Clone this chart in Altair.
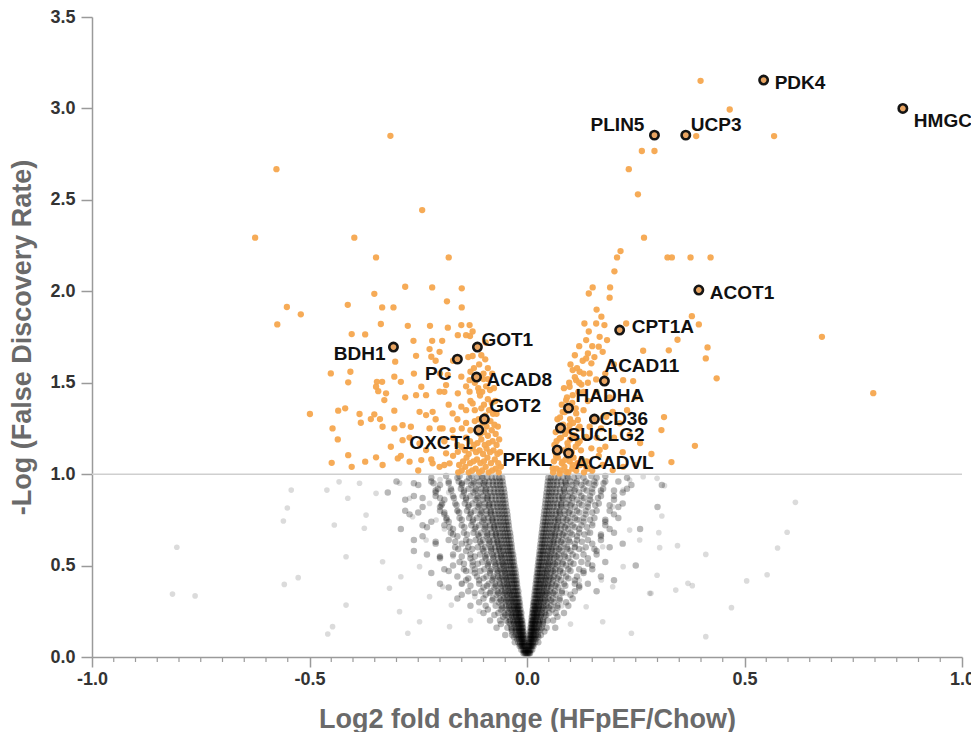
import altair as alt
import pandas as pd

# ---------------- data ----------------
gray_sparse_x = [-0.805, -0.815, -0.763, -0.542, -0.551, -0.560, -0.526, -0.558, -0.460, -0.458,
                 0.299, 0.316, 0.617, 0.310, 0.303, 0.598, 0.305, 0.346, 0.576, 0.411, 0.299, 0.552,
                 0.505, 0.370, 0.380, 0.342, 0.285, 0.470, 0.411,
                 -0.412, -0.443, -0.374, -0.416, -0.332, -0.290, -0.316, -0.416, -0.293, -0.274, -0.447,
                 -0.247, -0.232, -0.263, -0.347, -0.293, -0.224, -0.209, -0.201, -0.194, -0.174, -0.178,
                 -0.270, -0.370, -0.385, -0.432, -0.247, -0.224,
                 0.236, 0.267, 0.282, 0.159, 0.197, 0.236, 0.174, 0.221, 0.171, 0.136, 0.174, 0.240,
                 0.128, 0.197, 0.221, 0.259, 0.151, 0.128,
                 -0.15, -0.18, -0.20, -0.16, -0.19, -0.14, -0.17, -0.13, -0.15, -0.12, -0.11, -0.13,
                 0.13, 0.15, 0.17, 0.12, 0.14, 0.11, 0.10, 0.12, 0.09, 0.08, 0.10]
gray_sparse_y = [0.600, 0.344, 0.334, 0.913, 0.815, 0.744, 0.434, 0.397, 0.913, 0.126,
                 0.977, 0.937, 0.846, 0.771, 0.680, 0.682, 0.598, 0.609, 0.596, 0.561, 0.447, 0.450,
                 0.416, 0.403, 0.390, 0.366, 0.348, 0.270, 0.111,
                 0.868, 0.722, 0.704, 0.548, 0.521, 0.439, 0.376, 0.284, 0.248, 0.130, 0.166,
                 0.193, 0.640, 0.767, 0.895, 0.950, 0.840, 0.749, 0.548, 0.384, 0.284, 0.166,
                 0.868, 0.776, 0.950, 0.958, 0.494, 0.330,
                 0.968, 0.986, 0.348, 0.950, 0.822, 0.694, 0.603, 0.494, 0.421, 0.275, 0.193, 0.130,
                 0.585, 0.384, 0.913, 0.640, 0.731, 0.858,
                 0.95, 0.90, 0.97, 0.80, 0.70, 0.62, 0.55, 0.47, 0.40, 0.33, 0.25, 0.20,
                 0.95, 0.85, 0.90, 0.75, 0.68, 0.60, 0.50, 0.42, 0.35, 0.28, 0.18]

gray_rows_y = [0.02, 0.06, 0.10, 0.14, 0.18, 0.22, 0.26, 0.30, 0.34, 0.38, 0.42, 0.46, 0.50,
               0.54, 0.58, 0.62, 0.66, 0.70, 0.74, 0.78, 0.82, 0.86, 0.90, 0.94, 0.98,
               0.04, 0.08, 0.12, 0.16, 0.20, 0.24, 0.28, 0.32, 0.36, 0.40, 0.44, 0.48,
               0.52, 0.56, 0.60, 0.64, 0.68, 0.72, 0.76, 0.80, 0.84, 0.88, 0.92, 0.96,
               0.03, 0.07, 0.11, 0.15, 0.19, 0.23, 0.27, 0.31, 0.35, 0.39, 0.43, 0.47,
               0.51, 0.55, 0.59, 0.63, 0.67, 0.71, 0.75, 0.79, 0.83, 0.87, 0.91, 0.95, 0.99]
gray_rows_x = [
    [-0.001, -0.003, -0.005, -0.008, 0.001, 0.003, 0.005, 0.007],
    [-0.004, -0.006, -0.008, -0.010, -0.013, -0.017, 0.003, 0.005, 0.007, 0.009, 0.012, 0.015],
    [-0.006, -0.008, -0.010, -0.012, -0.015, -0.018, -0.023, 0.005, 0.007, 0.009, 0.011, 0.014, 0.017, 0.021],
    [-0.008, -0.010, -0.012, -0.015, -0.018, -0.021, -0.026, -0.035, 0.007, 0.009, 0.011, 0.014, 0.017, 0.020, 0.025, 0.040],
    [-0.010, -0.012, -0.015, -0.018, -0.021, -0.025, -0.030, -0.038, -0.060, 0.009, 0.011, 0.013, 0.016, 0.019, 0.023, 0.028, 0.036],
    [-0.013, -0.015, -0.018, -0.021, -0.025, -0.029, -0.034, -0.042, -0.055, 0.011, 0.013, 0.016, 0.019, 0.022, 0.026, 0.031, 0.040, 0.070],
    [-0.015, -0.018, -0.021, -0.024, -0.028, -0.033, -0.038, -0.046, -0.060, -0.090, 0.013, 0.015, 0.018, 0.021, 0.025, 0.029, 0.034, 0.043, 0.058],
    [-0.017, -0.020, -0.023, -0.027, -0.031, -0.036, -0.042, -0.050, -0.065, -0.110, 0.015, 0.017, 0.020, 0.024, 0.028, 0.032, 0.038, 0.047, 0.062, 0.090],
    [-0.020, -0.023, -0.026, -0.030, -0.035, -0.040, -0.046, -0.055, -0.070, -0.095, -0.150, 0.017, 0.020, 0.023, 0.027, 0.031, 0.036, 0.042, 0.051, 0.066, 0.100],
    [-0.022, -0.025, -0.029, -0.033, -0.038, -0.044, -0.050, -0.060, -0.075, -0.100, -0.180, 0.019, 0.022, 0.025, 0.029, 0.034, 0.039, 0.046, 0.056, 0.072, 0.120],
    [-0.024, -0.027, -0.031, -0.036, -0.041, -0.047, -0.054, -0.064, -0.080, -0.110, -0.140, 0.021, 0.024, 0.028, 0.032, 0.037, 0.043, 0.050, 0.060, 0.078, 0.110, 0.200],
    [-0.026, -0.030, -0.034, -0.039, -0.044, -0.050, -0.058, -0.068, -0.085, -0.120, -0.220, 0.023, 0.026, 0.030, 0.035, 0.040, 0.046, 0.054, 0.065, 0.083, 0.130],
    [-0.029, -0.032, -0.037, -0.042, -0.048, -0.054, -0.062, -0.073, -0.090, -0.125, -0.170, 0.025, 0.028, 0.032, 0.037, 0.043, 0.050, 0.058, 0.070, 0.090, 0.150, 0.250],
    [-0.031, -0.035, -0.040, -0.045, -0.051, -0.058, -0.066, -0.078, -0.095, -0.130, -0.200, 0.027, 0.030, 0.035, 0.040, 0.046, 0.053, 0.062, 0.075, 0.095, 0.140],
    [-0.034, -0.038, -0.043, -0.048, -0.055, -0.062, -0.071, -0.083, -0.100, -0.140, -0.260, 0.029, 0.033, 0.037, 0.043, 0.049, 0.057, 0.066, 0.080, 0.100, 0.160],
    [-0.036, -0.040, -0.046, -0.052, -0.059, -0.066, -0.075, -0.088, -0.105, -0.150, -0.210, 0.031, 0.035, 0.040, 0.046, 0.053, 0.061, 0.070, 0.085, 0.110, 0.150, 0.220],
    [-0.038, -0.043, -0.049, -0.055, -0.062, -0.070, -0.080, -0.093, -0.110, -0.160, -0.240, 0.033, 0.037, 0.043, 0.049, 0.056, 0.064, 0.074, 0.090, 0.115, 0.170],
    [-0.041, -0.046, -0.052, -0.058, -0.066, -0.074, -0.084, -0.098, -0.120, -0.170, -0.290, 0.035, 0.040, 0.045, 0.052, 0.059, 0.068, 0.078, 0.095, 0.120, 0.190, 0.260],
    [-0.043, -0.048, -0.055, -0.062, -0.070, -0.078, -0.089, -0.103, -0.125, -0.180, -0.220, 0.037, 0.042, 0.048, 0.055, 0.063, 0.072, 0.083, 0.100, 0.130, 0.180],
    [-0.045, -0.051, -0.058, -0.065, -0.073, -0.082, -0.093, -0.108, -0.130, -0.190, -0.270, 0.039, 0.044, 0.051, 0.058, 0.066, 0.076, 0.087, 0.105, 0.135, 0.200],
    [-0.048, -0.054, -0.061, -0.068, -0.077, -0.086, -0.098, -0.113, -0.135, -0.200, -0.240, 0.041, 0.047, 0.053, 0.061, 0.069, 0.079, 0.091, 0.110, 0.140, 0.210, 0.300],
    [-0.050, -0.056, -0.064, -0.072, -0.081, -0.090, -0.102, -0.118, -0.140, -0.190, -0.280, 0.043, 0.049, 0.056, 0.064, 0.073, 0.083, 0.096, 0.115, 0.145, 0.200],
    [-0.052, -0.059, -0.067, -0.075, -0.084, -0.094, -0.107, -0.123, -0.145, -0.210, -0.320, 0.045, 0.051, 0.058, 0.066, 0.076, 0.087, 0.100, 0.120, 0.150, 0.220],
    [-0.055, -0.062, -0.070, -0.078, -0.088, -0.098, -0.111, -0.128, -0.150, -0.200, -0.250, 0.047, 0.053, 0.061, 0.069, 0.079, 0.090, 0.104, 0.125, 0.155, 0.240, 0.310],
    [-0.057, -0.064, -0.072, -0.081, -0.091, -0.102, -0.115, -0.133, -0.160, -0.220, 0.049, 0.055, 0.063, 0.072, 0.082, 0.094, 0.108, 0.130, 0.160, 0.230],
    # interleaved rows
    [-0.002, -0.004, -0.006, -0.009, -0.013, 0.002, 0.004, 0.006, 0.009, 0.012],
    [-0.005, -0.007, -0.009, -0.012, -0.015, -0.020, -0.028, 0.004, 0.006, 0.008, 0.011, 0.014, 0.019, 0.026],
    [-0.007, -0.009, -0.012, -0.014, -0.017, -0.021, -0.026, -0.034, -0.050, 0.006, 0.008, 0.010, 0.013, 0.016, 0.020, 0.025, 0.032],
    [-0.009, -0.011, -0.014, -0.017, -0.020, -0.024, -0.029, -0.036, -0.045, -0.070, 0.008, 0.010, 0.012, 0.015, 0.018, 0.022, 0.027, 0.034, 0.045, 0.065],
    [-0.011, -0.013, -0.016, -0.019, -0.023, -0.027, -0.032, -0.039, -0.048, -0.062, -0.085, 0.010, 0.012, 0.014, 0.017, 0.021, 0.025, 0.030, 0.037, 0.047, 0.060],
    [-0.013, -0.016, -0.019, -0.022, -0.026, -0.031, -0.036, -0.043, -0.052, -0.066, -0.100, 0.012, 0.014, 0.017, 0.020, 0.024, 0.028, 0.034, 0.041, 0.051, 0.066, 0.085],
    [-0.016, -0.019, -0.022, -0.026, -0.030, -0.035, -0.041, -0.048, -0.058, -0.072, -0.095, -0.130, 0.014, 0.016, 0.019, 0.023, 0.027, 0.032, 0.038, 0.045, 0.055, 0.070, 0.095],
    [-0.018, -0.021, -0.025, -0.029, -0.033, -0.039, -0.045, -0.053, -0.063, -0.078, -0.100, -0.160, 0.016, 0.019, 0.022, 0.026, 0.030, 0.035, 0.041, 0.049, 0.060, 0.075, 0.105],
    [-0.020, -0.024, -0.028, -0.032, -0.037, -0.043, -0.050, -0.058, -0.068, -0.083, -0.105, -0.135, 0.018, 0.021, 0.024, 0.028, 0.033, 0.039, 0.045, 0.053, 0.064, 0.080, 0.110, 0.160],
    [-0.023, -0.026, -0.030, -0.035, -0.040, -0.046, -0.053, -0.062, -0.073, -0.088, -0.110, -0.150, -0.200, 0.020, 0.023, 0.027, 0.031, 0.036, 0.042, 0.049, 0.057, 0.068, 0.085, 0.110, 0.140],
    [-0.025, -0.029, -0.033, -0.038, -0.043, -0.050, -0.057, -0.066, -0.077, -0.093, -0.115, -0.160, 0.022, 0.025, 0.029, 0.034, 0.039, 0.045, 0.052, 0.061, 0.073, 0.090, 0.115, 0.170],
    [-0.027, -0.031, -0.036, -0.041, -0.047, -0.054, -0.061, -0.070, -0.082, -0.098, -0.120, -0.145, -0.190, 0.024, 0.027, 0.031, 0.036, 0.042, 0.048, 0.056, 0.065, 0.077, 0.095, 0.120, 0.150],
    [-0.030, -0.034, -0.039, -0.044, -0.050, -0.057, -0.065, -0.075, -0.087, -0.103, -0.125, -0.155, 0.026, 0.029, 0.034, 0.039, 0.045, 0.052, 0.060, 0.070, 0.082, 0.100, 0.125, 0.180],
    [-0.032, -0.036, -0.041, -0.047, -0.053, -0.060, -0.069, -0.079, -0.092, -0.108, -0.130, -0.170, -0.230, 0.028, 0.031, 0.036, 0.041, 0.047, 0.055, 0.063, 0.073, 0.086, 0.105, 0.130, 0.160],
    [-0.035, -0.039, -0.044, -0.050, -0.057, -0.064, -0.073, -0.083, -0.096, -0.113, -0.135, -0.165, 0.030, 0.034, 0.039, 0.044, 0.051, 0.058, 0.067, 0.078, 0.092, 0.110, 0.135, 0.190],
    [-0.037, -0.042, -0.047, -0.053, -0.060, -0.068, -0.077, -0.088, -0.101, -0.118, -0.140, -0.180, -0.260, 0.032, 0.036, 0.041, 0.047, 0.054, 0.062, 0.071, 0.082, 0.096, 0.115, 0.140, 0.170],
    [-0.039, -0.044, -0.050, -0.056, -0.063, -0.071, -0.081, -0.092, -0.106, -0.123, -0.145, -0.175, 0.034, 0.038, 0.044, 0.050, 0.057, 0.065, 0.075, 0.086, 0.100, 0.120, 0.145, 0.200],
    [-0.042, -0.047, -0.053, -0.060, -0.067, -0.075, -0.085, -0.096, -0.110, -0.128, -0.150, -0.190, -0.240, 0.036, 0.041, 0.046, 0.053, 0.060, 0.069, 0.079, 0.091, 0.105, 0.125, 0.150, 0.180],
    [-0.044, -0.050, -0.056, -0.063, -0.070, -0.079, -0.089, -0.100, -0.115, -0.133, -0.155, -0.185, 0.038, 0.043, 0.049, 0.056, 0.063, 0.072, 0.083, 0.095, 0.110, 0.130, 0.155, 0.210],
    [-0.046, -0.052, -0.059, -0.066, -0.074, -0.083, -0.093, -0.105, -0.120, -0.138, -0.160, -0.200, -0.280, 0.040, 0.045, 0.051, 0.058, 0.066, 0.075, 0.086, 0.099, 0.115, 0.135, 0.160, 0.190],
    [-0.049, -0.055, -0.062, -0.069, -0.077, -0.086, -0.097, -0.110, -0.125, -0.143, -0.165, -0.195, 0.042, 0.048, 0.054, 0.061, 0.069, 0.079, 0.090, 0.103, 0.120, 0.140, 0.165, 0.220],
    [-0.051, -0.057, -0.064, -0.072, -0.081, -0.090, -0.101, -0.114, -0.130, -0.148, -0.170, -0.210, -0.260, 0.044, 0.050, 0.056, 0.064, 0.072, 0.082, 0.094, 0.107, 0.125, 0.145, 0.170, 0.200],
    [-0.053, -0.060, -0.067, -0.075, -0.084, -0.094, -0.105, -0.118, -0.134, -0.152, -0.175, -0.205, 0.046, 0.052, 0.059, 0.066, 0.075, 0.085, 0.097, 0.111, 0.130, 0.150, 0.175, 0.230],
    [-0.056, -0.062, -0.070, -0.078, -0.087, -0.097, -0.109, -0.122, -0.138, -0.157, -0.180, -0.220, -0.300, 0.048, 0.054, 0.061, 0.069, 0.078, 0.088, 0.100, 0.115, 0.135, 0.155, 0.180, 0.210],
    # third set: outer band of the V
    [-0.003, -0.007, 0.003, 0.006],
    [-0.006, -0.011, -0.016, 0.005, 0.010, 0.014],
    [-0.009, -0.014, -0.020, -0.030, 0.008, 0.012, 0.018, 0.026],
    [-0.012, -0.018, -0.025, -0.035, 0.011, 0.016, 0.022, 0.031],
    [-0.015, -0.022, -0.030, -0.042, 0.013, 0.019, 0.027, 0.037],
    [-0.018, -0.026, -0.036, -0.050, -0.075, 0.016, 0.023, 0.032, 0.044],
    [-0.021, -0.030, -0.042, -0.057, 0.019, 0.027, 0.037, 0.050, 0.070],
    [-0.035, -0.048, -0.060, -0.080, 0.030, 0.042, 0.055, 0.075],
    [-0.040, -0.052, -0.066, -0.085, -0.120, 0.035, 0.046, 0.060, 0.080],
    [-0.044, -0.057, -0.072, -0.092, -0.130, 0.038, 0.050, 0.065, 0.088, 0.120],
    [-0.048, -0.062, -0.078, -0.100, -0.135, 0.042, 0.055, 0.070, 0.095],
    [-0.052, -0.067, -0.085, -0.107, -0.140, -0.180, 0.045, 0.060, 0.076, 0.100, 0.130],
    [-0.056, -0.072, -0.090, -0.113, -0.145, 0.049, 0.064, 0.082, 0.107, 0.140],
    [-0.060, -0.077, -0.096, -0.120, -0.150, -0.200, 0.052, 0.068, 0.087, 0.113],
    [-0.064, -0.082, -0.102, -0.126, -0.158, 0.056, 0.073, 0.093, 0.120, 0.155],
    [-0.068, -0.086, -0.108, -0.132, -0.165, -0.210, 0.060, 0.078, 0.098, 0.126],
    [-0.072, -0.091, -0.113, -0.138, -0.170, 0.063, 0.082, 0.104, 0.132, 0.170],
    [-0.076, -0.096, -0.118, -0.144, -0.178, -0.230, 0.067, 0.087, 0.110, 0.138],
    [-0.080, -0.100, -0.124, -0.150, -0.185, 0.070, 0.091, 0.115, 0.145, 0.180],
    [-0.084, -0.105, -0.129, -0.156, -0.190, -0.250, 0.074, 0.096, 0.120, 0.150],
    [-0.088, -0.110, -0.134, -0.162, -0.197, 0.078, 0.100, 0.126, 0.157, 0.190],
    [-0.092, -0.114, -0.140, -0.168, -0.200, -0.240, 0.081, 0.104, 0.131, 0.163],
    [-0.096, -0.119, -0.145, -0.174, -0.210, 0.085, 0.109, 0.137, 0.170, 0.200],
    [-0.100, -0.124, -0.150, -0.180, -0.215, -0.260, 0.089, 0.113, 0.142, 0.176],
    [-0.104, -0.128, -0.155, -0.186, 0.093, 0.118, 0.148, 0.180],
]

orange_pts = [
    # right, upper
    (0.399, 3.151), (0.466, 2.994), (0.568, 2.849), (0.389, 2.849), (0.264, 2.767), (0.293, 2.767),
    (0.234, 2.668), (0.255, 2.530), (0.269, 2.293), (0.215, 2.220), (0.207, 2.185), (0.323, 2.185),
    (0.333, 2.185), (0.376, 2.185), (0.422, 2.185), (0.201, 2.109), (0.151, 2.021), (0.142, 1.988),
    (0.191, 2.021), (0.190, 1.965), (0.171, 1.861), (0.379, 1.864), (0.395, 1.819), (0.346, 1.735),
    (0.415, 1.693), (0.326, 1.677), (0.267, 1.675), (0.411, 1.633), (0.678, 1.751), (0.436, 1.524),
    (0.796, 1.443), (0.244, 1.509), (0.315, 1.312), (0.309, 1.241), (0.386, 1.155), (0.332, 1.066),
    (0.286, 1.110), (0.228, 1.824),
    # right cluster
    (0.132, 1.824), (0.159, 1.824), (0.178, 1.815), (0.136, 1.733), (0.167, 1.751), (0.184, 1.733),
    (0.165, 1.697), (0.174, 1.669), (0.136, 1.633), (0.148, 1.606), (0.105, 1.569), (0.121, 1.560),
    (0.144, 1.551), (0.113, 1.514), (0.159, 1.518), (0.221, 1.514), (0.098, 1.478), (0.105, 1.432),
    (0.090, 1.405), (0.082, 1.341), (0.113, 1.332), (0.117, 1.296), (0.098, 1.268), (0.121, 1.259),
    (0.144, 1.259), (0.105, 1.214), (0.136, 1.204), (0.075, 1.196), (0.117, 1.168), (0.094, 1.150),
    (0.148, 1.141), (0.167, 1.132), (0.067, 1.095), (0.082, 1.068), (0.105, 1.050), (0.136, 1.040),
    (0.174, 1.050), (0.197, 1.022), (0.221, 1.040), (0.059, 1.032), (0.075, 1.004), (0.090, 1.013),
    (0.236, 1.214), (0.213, 1.278), (0.197, 1.341), (0.182, 1.314),
    (0.060, 1.01), (0.068, 1.03), (0.077, 1.02), (0.086, 1.04), (0.095, 1.01), (0.104, 1.03),
    (0.113, 1.02), (0.122, 1.05), (0.131, 1.01), (0.140, 1.03), (0.150, 1.02),
    (0.062, 1.07), (0.071, 1.09), (0.080, 1.06), (0.089, 1.08), (0.098, 1.07), (0.107, 1.09),
    (0.116, 1.06), (0.126, 1.08), (0.137, 1.07),
    (0.065, 1.12), (0.074, 1.14), (0.084, 1.13), (0.093, 1.17), (0.103, 1.12), (0.112, 1.15), (0.124, 1.13),
    (0.068, 1.18), (0.078, 1.20), (0.088, 1.22), (0.099, 1.19), (0.110, 1.21), (0.121, 1.18),
    (0.072, 1.25), (0.083, 1.27), (0.094, 1.24), (0.106, 1.28), (0.118, 1.25),
    (0.076, 1.31), (0.087, 1.34), (0.099, 1.30), (0.112, 1.36),
    (0.080, 1.38), (0.092, 1.42), (0.104, 1.39), (0.118, 1.45),
    (0.085, 1.47), (0.097, 1.50), (0.110, 1.53), (0.125, 1.49),
    (0.115, 1.58), (0.128, 1.62), (0.140, 1.66), (0.150, 1.70), (0.142, 1.78), (0.155, 1.64), (0.130, 1.55),
    (0.165, 1.10), (0.180, 1.15), (0.160, 1.20), (0.150, 1.30), (0.170, 1.25), (0.130, 1.35),
    (0.140, 1.40), (0.160, 1.45), (0.130, 1.45), (0.120, 1.50), (0.140, 1.50), (0.180, 1.55),
    (0.200, 1.60), (0.190, 1.42), (0.200, 1.20), (0.220, 1.12), (0.250, 1.05), (0.260, 1.17),
    (0.230, 1.35), (0.250, 1.42), (0.160, 1.90), (0.120, 1.70), (0.110, 1.65), (0.100, 1.60),
    (0.063, 1.16), (0.066, 1.23), (0.070, 1.30),
    # left, upper
    (-0.314, 2.850), (-0.576, 2.668), (-0.241, 2.444), (-0.625, 2.293), (-0.397, 2.293), (-0.347, 2.185),
    (-0.180, 2.185), (-0.280, 2.025), (-0.218, 2.021), (-0.150, 2.016), (-0.351, 1.986), (-0.184, 1.945),
    (-0.552, 1.914), (-0.520, 1.874), (-0.412, 1.926), (-0.333, 1.912), (-0.307, 1.912), (-0.150, 1.912),
    (-0.574, 1.819), (-0.336, 1.821), (-0.274, 1.811), (-0.223, 1.811),
    # left cluster
    (-0.182, 1.801), (-0.151, 1.815), (-0.132, 1.815), (-0.403, 1.766), (-0.372, 1.764), (-0.261, 1.729),
    (-0.218, 1.729), (-0.195, 1.729), (-0.159, 1.760), (-0.131, 1.755), (-0.224, 1.684), (-0.201, 1.669),
    (-0.255, 1.647), (-0.220, 1.642), (-0.125, 1.646), (-0.096, 1.628), (-0.303, 1.615), (-0.406, 1.560),
    (-0.451, 1.551), (-0.345, 1.505), (-0.333, 1.505), (-0.305, 1.533), (-0.290, 1.505), (-0.411, 1.502),
    (-0.347, 1.478), (-0.342, 1.454), (-0.243, 1.478), (-0.186, 1.487), (-0.182, 1.542), (-0.151, 1.533),
    (-0.132, 1.514), (-0.328, 1.405), (-0.324, 1.442), (-0.255, 1.432), (-0.232, 1.432), (-0.201, 1.451),
    (-0.159, 1.442), (-0.132, 1.451), (-0.499, 1.329), (-0.434, 1.347), (-0.418, 1.360), (-0.305, 1.347),
    (-0.385, 1.329), (-0.351, 1.327), (-0.338, 1.301), (-0.359, 1.301), (-0.247, 1.341), (-0.232, 1.323),
    (-0.217, 1.341), (-0.171, 1.332), (-0.151, 1.369), (-0.125, 1.387), (-0.447, 1.250), (-0.382, 1.281),
    (-0.332, 1.259), (-0.305, 1.250), (-0.286, 1.268), (-0.267, 1.259), (-0.224, 1.250), (-0.194, 1.250),
    (-0.171, 1.241), (-0.435, 1.190), (-0.313, 1.150), (-0.286, 1.186), (-0.247, 1.168), (-0.232, 1.132),
    (-0.186, 1.114), (-0.159, 1.122), (-0.411, 1.104), (-0.347, 1.092), (-0.372, 1.068), (-0.332, 1.050),
    (-0.449, 1.062), (-0.403, 1.040), (-0.297, 1.086), (-0.270, 1.068), (-0.243, 1.077), (-0.217, 1.059),
    (-0.201, 1.040), (-0.178, 1.059),
    (-0.065, 1.01), (-0.072, 1.03), (-0.080, 1.02), (-0.088, 1.01), (-0.095, 1.04), (-0.103, 1.02),
    (-0.110, 1.01), (-0.118, 1.03), (-0.126, 1.02), (-0.134, 1.01), (-0.142, 1.04), (-0.150, 1.02), (-0.158, 1.01),
    (-0.066, 1.06), (-0.074, 1.08), (-0.083, 1.06), (-0.091, 1.09), (-0.099, 1.07), (-0.107, 1.06),
    (-0.115, 1.08), (-0.123, 1.07), (-0.131, 1.06), (-0.139, 1.09), (-0.147, 1.07), (-0.156, 1.05),
    (-0.068, 1.11), (-0.077, 1.13), (-0.085, 1.12), (-0.093, 1.14), (-0.101, 1.11), (-0.109, 1.13),
    (-0.117, 1.12), (-0.125, 1.14), (-0.134, 1.11), (-0.143, 1.13),
    (-0.070, 1.16), (-0.079, 1.18), (-0.088, 1.17), (-0.097, 1.16), (-0.105, 1.19), (-0.114, 1.17),
    (-0.122, 1.16), (-0.131, 1.18),
    (-0.072, 1.22), (-0.081, 1.24), (-0.090, 1.21), (-0.099, 1.23), (-0.108, 1.22),
    (-0.075, 1.27), (-0.084, 1.29), (-0.093, 1.26), (-0.102, 1.28), (-0.111, 1.30),
    (-0.078, 1.33), (-0.087, 1.35), (-0.096, 1.32), (-0.105, 1.36),
    (-0.081, 1.39), (-0.090, 1.41), (-0.099, 1.38), (-0.108, 1.43),
    (-0.085, 1.46), (-0.094, 1.48), (-0.103, 1.45), (-0.112, 1.47),
    (-0.090, 1.52), (-0.100, 1.55), (-0.122, 1.58), (-0.110, 1.60), (-0.135, 1.64), (-0.118, 1.70), (-0.140, 1.76),
    (-0.160, 1.16), (-0.170, 1.20), (-0.150, 1.25), (-0.160, 1.30), (-0.140, 1.20), (-0.150, 1.15),
    (-0.140, 1.28), (-0.130, 1.24), (-0.120, 1.29), (-0.140, 1.35), (-0.130, 1.40), (-0.120, 1.35),
    (-0.110, 1.45), (-0.120, 1.50), (-0.140, 1.48), (-0.130, 1.56), (-0.100, 1.52), (-0.090, 1.58),
    (-0.105, 1.65), (-0.095, 1.72), (-0.125, 1.78), (-0.190, 1.18), (-0.200, 1.25), (-0.210, 1.30),
    (-0.180, 1.38), (-0.190, 1.45), (-0.200, 1.55), (-0.170, 1.62), (-0.210, 1.62), (-0.260, 1.55),
    (-0.280, 1.42), (-0.270, 1.20), (-0.290, 1.10), (-0.250, 1.02), (-0.220, 1.08), (-0.190, 1.05),
    (-0.170, 1.10), (-0.060, 1.04), (-0.062, 1.12), (-0.064, 1.19), (-0.067, 1.26), (-0.070, 1.33),
    (-0.073, 1.40), (-0.076, 1.47), (-0.080, 1.55),
]
orange_x = [p[0] for p in orange_pts]
orange_y = [p[1] for p in orange_pts]

label_names = ["PDK4", "HMGCS2", "PLIN5", "UCP3", "ACOT1", "CPT1A", "ACAD11", "HADHA", "CD36",
               "SUCLG2", "PFKL", "ACADVL", "BDH1", "GOT1", "PC", "ACAD8", "GOT2", "OXCT1"]
label_x = [0.544, 0.864, 0.293, 0.365, 0.395, 0.213, 0.178, 0.0955, 0.155, 0.077, 0.0695, 0.0955,
           -0.307, -0.114, -0.160, -0.116, -0.098, -0.111]
label_y = [3.155, 3.000, 2.854, 2.854, 2.007, 1.788, 1.509, 1.361, 1.301, 1.252, 1.132, 1.115,
           1.695, 1.695, 1.629, 1.531, 1.301, 1.241]

threshold = [1.0]
x_major = [-1.0, -0.5, 0.0, 0.5, 1.0]
x_minor = [-0.95, -0.9, -0.85, -0.8, -0.75, -0.7, -0.65, -0.6, -0.55,
           -0.45, -0.4, -0.35, -0.3, -0.25, -0.2, -0.15, -0.1, -0.05,
           0.05, 0.1, 0.15, 0.2, 0.25, 0.3, 0.35, 0.4, 0.45,
           0.55, 0.6, 0.65, 0.7, 0.75, 0.8, 0.85, 0.9, 0.95]
y_major = [0.0, 0.5, 1.0, 1.5, 2.0, 2.5, 3.0, 3.5]

# label placement (align, dx, dy) in pixels
placement = {
    "PDK4": ("left", 11, 3), "HMGCS2": ("left", 11, 13), "PLIN5": ("right", -10, -10),
    "UCP3": ("left", 5, -10), "ACOT1": ("left", 11, 3), "CPT1A": ("left", 12, -3),
    "ACAD11": ("left", 0, -15), "HADHA": ("left", 7, -12), "CD36": ("left", 5, 0),
    "SUCLG2": ("left", 7, 7), "PFKL": ("right", -5, 10), "ACADVL": ("left", 6, 10),
    "BDH1": ("right", -8, 7), "GOT1": ("left", 4, -7), "PC": ("right", -6, 15),
    "ACAD8": ("left", 10, 3), "GOT2": ("left", 5, -13), "OXCT1": ("right", -6, 13),
}

# ---------------- tables ----------------
gx, gy = [], []
for yv, xs_ in zip(gray_rows_y, gray_rows_x):
    for xv in xs_:
        gx.append(xv)
        gy.append(yv)
dense_df = pd.DataFrame({"x": gx, "y": gy})
sparse_df = pd.DataFrame({"x": gray_sparse_x, "y": gray_sparse_y})
orange_df = pd.DataFrame({"x": orange_x, "y": orange_y})
label_df = pd.DataFrame({"name": label_names, "x": label_x, "y": label_y})
thr_df = pd.DataFrame({"y": threshold})
minor_df = pd.DataFrame({"x": x_minor})

FONT = "Liberation Sans"
x_axis = alt.Axis(values=x_major, title="Log2 fold change (HFpEF/Chow)",
                  labelExpr="datum.value < 0 ? '-' + format(-datum.value, '.1f') : format(datum.value, '.1f')",
                  grid=False, tickSize=10, tickWidth=1.5, tickColor="#9a9a9a",
                  domainColor="#9a9a9a", domainWidth=1.5, labelFlush=False,
                  labelFont=FONT, labelFontSize=18, labelFontWeight="bold", labelColor="#333333",
                  labelPadding=3, titleFont=FONT, titleFontSize=27, titleFontWeight="bold",
                  titleColor="#6a6a6a", titleX=435, titleY=62, titleBaseline="middle")
y_axis = alt.Axis(values=y_major, format=".1f", title="-Log (False Discovery Rate)",
                  grid=False, tickSize=11, tickWidth=1.5, tickColor="#9a9a9a",
                  domainColor="#9a9a9a", domainWidth=1.5,
                  labelFont=FONT, labelFontSize=18, labelFontWeight="bold", labelColor="#333333",
                  labelPadding=6, titleFont=FONT, titleFontSize=27, titleFontWeight="bold",
                  titleColor="#6a6a6a", titleX=-70, titleY=320, titleAngle=-90,
                  titleBaseline="middle", titleAlign="center")
xs = alt.Scale(domain=[-1, 1], nice=False, zero=False)
ys = alt.Scale(domain=[0, 3.5], nice=False, zero=False)
X = alt.X("x:Q", scale=xs, axis=x_axis)
Y = alt.Y("y:Q", scale=ys, axis=y_axis)

sparse = alt.Chart(sparse_df).mark_circle(size=32, color="black", opacity=0.14).encode(x=X, y=Y)
dense = alt.Chart(dense_df).mark_circle(size=42, color="black", opacity=0.28).encode(x=X, y=Y)
thr = alt.Chart(thr_df).mark_rule(color="#cfcfcf", strokeWidth=1.5).encode(y=Y)
minor = alt.Chart(minor_df).mark_rule(color="#9a9a9a", strokeWidth=1.2).encode(
    x=X, y=alt.value(640), y2=alt.value(645))
orange = alt.Chart(orange_df).mark_circle(size=40, color="#F5A64E", opacity=0.95).encode(x=X, y=Y)
hl = alt.Chart(label_df).mark_point(shape="circle", size=70, filled=True, fill="#E9A562",
                                    stroke="#151515", strokeWidth=2.6, opacity=1).encode(x=X, y=Y)

texts = []
for name in label_names:
    al, dx, dy = placement[name]
    texts.append(
        alt.Chart(label_df).transform_filter(alt.datum.name == name).mark_text(
            align=al, baseline="middle", dx=dx, dy=dy, font=FONT, fontSize=19,
            fontWeight="bold", color="#111111").encode(x=X, y=Y, text="name:N")
    )

chart = alt.layer(sparse, dense, thr, minor, orange, hl, *texts).properties(
    width=870, height=640,
    padding={"left": 84, "top": 9, "right": 9, "bottom": 75},
    autosize=alt.AutoSizeParams(type="none"),
    background="white",
).configure_view(strokeWidth=0)

chart.save("out.html", embed_options={"renderer": "svg", "actions": False})
